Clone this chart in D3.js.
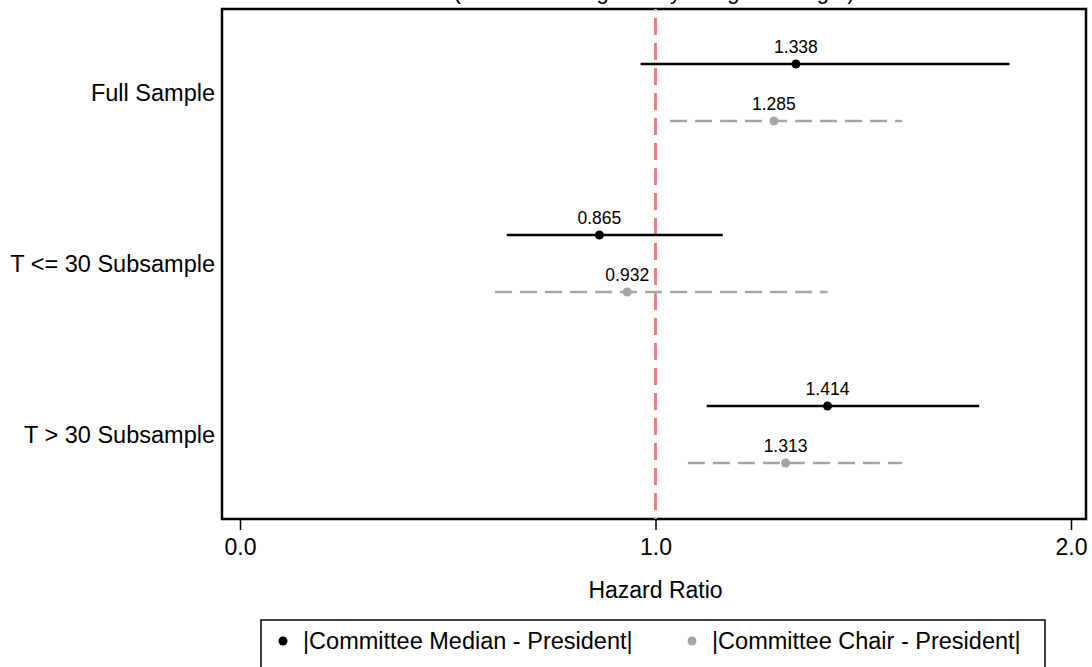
<!DOCTYPE html>
<html>
<head>
<meta charset="utf-8">
<script src="https://cdn.jsdelivr.net/npm/d3@7"></script>
<style>
  body { margin: 0; background: #ffffff; }
  text { font-family: "Liberation Sans", Arial, sans-serif; }
</style>
</head>
<body>
<div id="divgraph"></div>
<script>
//Data
var categories = ["Full Sample", "T <= 30 Subsample", "T > 30 Subsample"]
var seriesNames = ["|Committee Median - President|", "|Committee Chair - President|"]
var medianEst = [1.338, 0.865, 1.414]
var medianLow = [0.964, 0.642, 1.123]
var medianHigh = [1.852, 1.162, 1.779]
var chairEst = [1.285, 0.932, 1.313]
var chairLow = [1.035, 0.614, 1.078]
var chairHigh = [1.593, 1.414, 1.593]
var xTicks = [0, 1, 2]

//Build the rows used to draw the intervals
var rows = []
for (i = 0; i < categories.length; i++) {
  rows.push({"cat": categories[i], "series": 0, "est": medianEst[i], "low": medianLow[i], "high": medianHigh[i]})
  rows.push({"cat": categories[i], "series": 1, "est": chairEst[i], "low": chairLow[i], "high": chairHigh[i]})
}

var width = 1092
var height = 667
var margin = {top: 9, left: 222, right: 6, bottom: 148}
var innerW = width - margin.left - margin.right
var innerH = height - margin.top - margin.bottom

var svg = d3.select("#divgraph")
  .append("svg")
  .attr("width", width)
  .attr("height", height)

var graph = svg.append("g")
  .attr("transform", "translate(" + margin.left + "," + margin.top + ")")

//Scales
var xScale = d3.scaleLinear()
  .domain([0, 2])
  .range([18, 849])

var yScale = d3.scalePoint()
  .domain(categories)
  .range([83.5, 425.5])

var offset = [-28.5, 28.5]
var colors = ["#000000", "#a6a6a6"]
var dashes = [null, "17,8"]

//Title, mostly outside the picture (only the bottom shows, as in the original)
svg.append("text")
  .attr("x", margin.left + innerW / 2)
  .attr("y", -1)
  .attr("text-anchor", "middle")
  .attr("font-size", 22)
  .text("(Distances weighted by Congress length)")

//Plot box
graph.append("rect")
  .attr("x", 0)
  .attr("y", 0)
  .attr("width", innerW)
  .attr("height", innerH)
  .attr("fill", "none")
  .attr("stroke", "#000000")
  .attr("stroke-width", 2.5)

//x axis
var xAxis = d3.axisBottom(xScale)
  .tickValues(xTicks)
  .tickSize(11)
  .tickPadding(9)
  .tickFormat(d3.format(".1f"))

var gx = graph.append("g")
  .attr("transform", "translate(0," + innerH + ")")
  .call(xAxis)
gx.select(".domain").remove()
gx.selectAll("line").attr("stroke-width", 1.5)
gx.selectAll("text").attr("font-size", 23).attr("fill", "#000")

svg.append("text")
  .attr("x", margin.left + xScale(1))
  .attr("y", 598)
  .attr("text-anchor", "middle")
  .attr("font-size", 23)
  .text("Hazard Ratio")

//y labels
graph.selectAll(".ylab")
  .data(categories)
  .enter()
  .append("text")
  .attr("x", -7)
  .attr("y", function(d) { return yScale(d) })
  .attr("dy", "0.35em")
  .attr("text-anchor", "end")
  .attr("font-size", 23.5)
  .text(function(d) { return d })

//Reference line at 1
graph.append("line")
  .attr("x1", xScale(1))
  .attr("x2", xScale(1))
  .attr("y1", 0)
  .attr("y2", innerH)
  .attr("stroke", "#f47c7c")
  .attr("stroke-width", 3)
  .attr("stroke-dasharray", "17,8")
  .attr("stroke-dashoffset", -9)

//Intervals
graph.selectAll(".ci")
  .data(rows)
  .enter()
  .append("line")
  .attr("x1", function(d) { return xScale(d.low) })
  .attr("x2", function(d) { return xScale(d.high) })
  .attr("y1", function(d) { return yScale(d.cat) + offset[d.series] })
  .attr("y2", function(d) { return yScale(d.cat) + offset[d.series] })
  .attr("stroke", function(d) { return colors[d.series] })
  .attr("stroke-width", 2.6)
  .attr("stroke-dasharray", function(d) { return dashes[d.series] })

//Points
graph.selectAll(".dot")
  .data(rows)
  .enter()
  .append("circle")
  .attr("cx", function(d) { return xScale(d.est) })
  .attr("cy", function(d) { return yScale(d.cat) + offset[d.series] })
  .attr("r", 4.5)
  .attr("fill", function(d) { return colors[d.series] })

//Value labels
graph.selectAll(".val")
  .data(rows)
  .enter()
  .append("text")
  .attr("x", function(d) { return xScale(d.est) })
  .attr("y", function(d) { return yScale(d.cat) + offset[d.series] - 11 })
  .attr("text-anchor", "middle")
  .attr("font-size", 17.5)
  .text(function(d) { return d3.format(".3f")(d.est) })

//Legend
var legend = svg.append("g")
svg.append("rect")
  .attr("x", 261)
  .attr("y", 620)
  .attr("width", 784)
  .attr("height", 60)
  .attr("fill", "none")
  .attr("stroke", "#000000")
  .attr("stroke-width", 1.5)

var legendX = [283, 692]
legend.selectAll("circle")
  .data(seriesNames)
  .enter()
  .append("circle")
  .attr("cx", function(d, i) { return legendX[i] })
  .attr("cy", 641)
  .attr("r", 4.5)
  .attr("fill", function(d, i) { return colors[i] })

legend.selectAll("text")
  .data(seriesNames)
  .enter()
  .append("text")
  .attr("x", function(d, i) { return legendX[i] + 20 })
  .attr("y", 641)
  .attr("dy", "0.35em")
  .attr("font-size", 23.5)
  .text(function(d) { return d })
</script>
</body>
</html>
